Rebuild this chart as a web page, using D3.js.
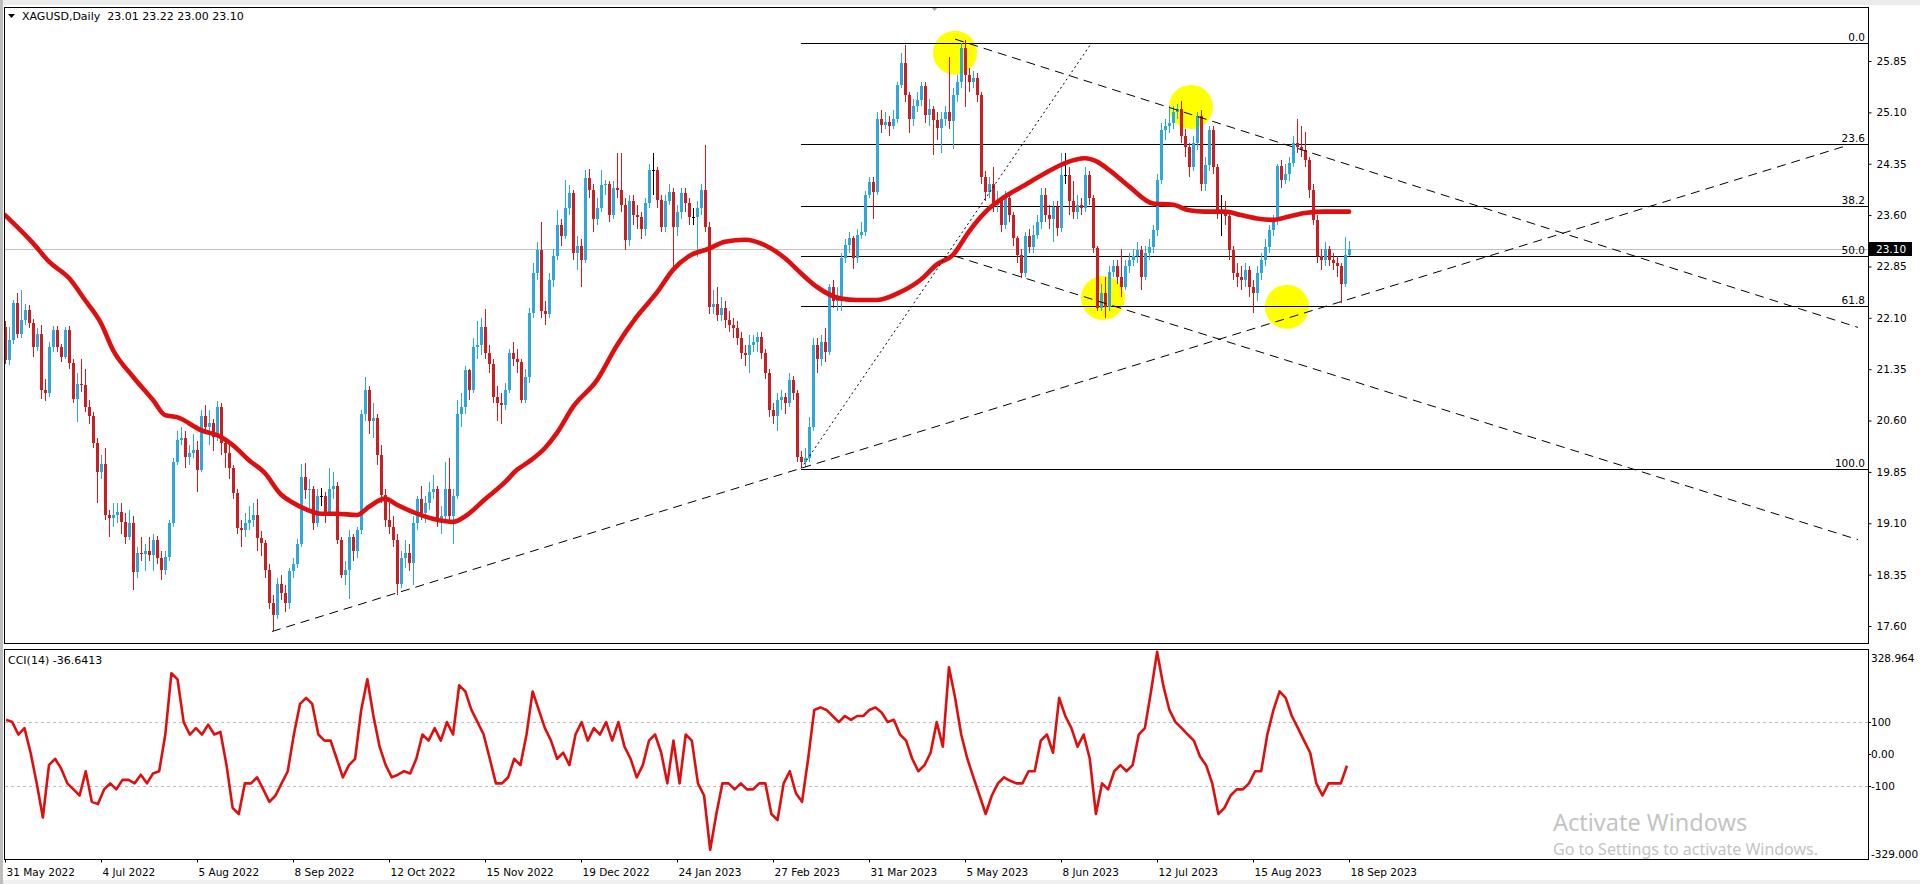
<!DOCTYPE html>
<html><head><meta charset="utf-8">
<script src="https://cdn.jsdelivr.net/npm/d3@7"></script>
<style>
html,body{margin:0;padding:0;background:#fff;overflow:hidden}
svg{display:block}
text{font-family:"DejaVu Sans",sans-serif;font-size:10.5px;fill:#000}
</style></head><body>
<svg id="chart" width="1920" height="884"></svg>
<script>
// ---------------- DATA ----------------
const symbolTitle = "XAGUSD,Daily";
const lastOHLC = ["23.01", "23.22", "23.00", "23.10"];
const cciTitle = "CCI(14) -36.6413";
const lastPrice = 23.10;
const firstOpen = 21.97;
const dateLabelBars = [0,24,48,72,96,120,144,168,192,216,240,264,288,312,336];
const dateLabels = ["31 May 2022","4 Jul 2022","5 Aug 2022","8 Sep 2022","12 Oct 2022","15 Nov 2022","19 Dec 2022","24 Jan 2023","27 Feb 2023","31 Mar 2023","5 May 2023","8 Jun 2023","12 Jul 2023","15 Aug 2023","18 Sep 2023"];
const priceTicks = [25.85,25.10,24.35,23.60,22.85,22.10,21.35,20.60,19.85,19.10,18.35,17.60];
const cciTicks = [328.964,100,0,-100,-329];
const cciTickLabels = ["328.964","100","0.00","-100","-329.000"];
const cciLevels = [100,-100];

const closes = [
21.48,21.78,22.31,21.87,22.07,22.21,22.02,21.68,21.87,21.04,
21.00,21.68,21.92,21.68,21.53,21.92,21.44,20.92,21.14,21.12,
20.80,20.66,20.27,19.85,19.97,19.22,19.17,19.22,19.27,19.12,
18.90,19.10,18.39,18.66,18.65,18.70,18.64,18.86,18.59,18.42,
18.61,19.10,20.00,20.31,20.34,20.07,20.12,20.17,19.88,20.66,
20.51,20.56,20.36,20.80,20.27,20.12,19.90,19.54,19.03,19.00,
19.10,19.15,19.22,18.88,18.81,18.42,17.93,17.76,18.22,18.08,
17.93,18.40,18.50,18.80,19.78,19.58,19.60,19.10,19.50,19.50,
19.25,19.60,19.65,18.85,18.35,18.42,18.90,18.70,19.00,20.70,
21.04,20.60,20.63,20.10,19.52,19.15,19.05,18.85,18.22,18.60,
18.67,18.52,19.10,19.45,19.25,19.40,19.55,19.60,19.15,19.20,
19.60,19.20,19.50,20.70,20.80,21.34,21.04,21.68,21.70,21.97,
21.58,21.43,20.95,20.85,20.82,21.04,21.58,21.50,21.45,20.90,
21.24,22.17,22.75,23.09,22.20,22.15,22.65,23.00,23.45,23.30,
23.70,23.92,23.04,23.15,22.95,24.14,23.97,23.55,23.70,24.04,
24.06,23.60,24.00,23.96,23.75,23.23,23.80,23.60,23.57,23.40,
23.77,24.26,24.26,23.82,23.43,23.80,23.94,23.43,23.65,23.92,
23.77,23.57,23.57,23.70,23.97,23.43,22.26,22.30,22.14,22.25,
22.07,22.00,21.95,21.80,21.58,21.55,21.70,21.75,21.82,21.58,
21.30,20.75,20.66,20.90,20.95,20.85,21.19,21.00,20.07,20.00,
20.05,20.50,21.70,21.50,21.75,21.60,22.55,22.35,22.40,22.97,
23.16,23.26,22.97,23.31,23.36,23.89,24.09,23.94,25.00,24.92,
24.96,24.90,25.01,25.50,25.82,25.35,25.01,25.20,25.28,25.48,
25.06,25.15,24.99,24.87,25.00,25.10,24.97,25.35,25.55,26.04,
25.65,25.55,25.60,25.35,24.16,23.94,24.06,23.75,23.80,23.46,
23.85,23.60,23.26,23.02,22.75,23.30,23.14,23.31,23.50,23.90,
23.60,23.55,23.72,23.41,24.19,24.19,23.80,23.65,23.75,23.70,
24.19,23.85,23.12,22.25,22.46,22.26,22.77,22.85,22.70,22.55,
22.85,22.95,23.00,23.09,22.70,23.04,23.14,23.38,24.11,24.84,
24.90,24.94,25.11,25.15,24.75,24.60,24.30,24.65,25.04,24.06,
24.33,24.84,24.30,23.67,23.67,23.58,23.09,22.75,22.70,22.65,
22.80,22.55,22.46,22.75,22.94,23.14,23.38,23.53,24.31,24.11,
24.20,24.36,24.65,24.60,24.55,24.40,23.97,23.53,23.00,22.94,
23.10,22.95,22.90,22.85,22.60,23.01,23.10];

const highs = [
22.05,21.97,22.36,22.46,22.50,22.30,22.28,22.08,21.95,22.00,
21.20,21.75,21.98,21.98,21.72,21.97,21.98,21.50,21.30,21.50,
21.35,20.90,20.72,20.35,20.10,20.20,19.30,19.40,19.40,19.40,
19.25,19.30,19.20,18.75,18.90,18.80,18.90,18.95,18.92,18.70,
18.70,19.15,20.05,20.45,20.50,20.45,20.25,20.40,20.30,20.75,
20.82,20.75,20.62,20.88,20.86,20.35,20.30,19.95,19.60,19.15,
19.25,19.35,19.40,19.45,18.98,18.85,18.50,18.05,18.30,18.35,
18.20,18.45,18.60,18.87,19.97,19.98,19.75,19.65,19.60,19.62,
19.55,19.90,19.85,19.70,18.90,18.55,19.00,18.95,19.05,20.75,
21.24,21.10,20.85,20.70,20.25,19.60,19.40,19.20,18.95,18.70,
18.85,18.80,19.20,19.50,19.65,19.50,19.70,19.80,19.65,19.35,
20.00,20.05,19.60,20.90,21.00,21.40,21.35,21.80,22.05,22.10,
22.23,21.70,21.50,21.10,21.00,21.15,21.65,21.75,21.65,21.50,
21.35,22.25,22.90,23.20,23.50,22.35,22.75,23.10,23.67,23.55,
24.11,24.04,23.97,23.30,23.25,24.26,24.28,24.05,23.85,24.26,
24.11,24.10,24.10,24.50,24.50,23.85,23.90,23.90,23.75,23.65,
23.85,24.35,24.50,24.30,23.90,23.90,24.05,24.00,23.75,24.00,
24.00,23.85,23.70,23.80,24.05,24.62,23.50,22.50,22.55,22.40,
22.35,22.20,22.10,22.05,21.90,21.70,21.85,21.85,21.90,21.90,
21.65,21.35,20.85,21.00,21.05,21.00,21.30,21.25,21.05,20.15,
20.20,20.65,21.80,21.80,21.85,21.95,22.60,22.65,22.55,23.05,
23.25,23.35,23.30,23.40,23.50,23.95,24.16,24.15,25.10,25.13,
25.10,25.05,25.13,25.55,25.96,26.08,25.40,25.30,25.40,25.55,
25.55,25.30,25.20,25.10,25.10,25.20,25.91,25.45,25.65,26.11,
26.16,25.75,25.70,25.68,25.40,24.25,24.15,24.30,23.95,23.85,
23.95,23.90,23.65,23.30,23.10,23.35,23.40,23.45,23.60,24.00,
24.00,23.75,23.80,23.80,24.50,24.50,24.30,24.10,23.90,23.85,
24.30,24.25,23.90,23.15,22.60,22.70,22.85,22.95,22.95,23.10,
22.95,23.05,23.10,23.20,23.15,23.15,23.25,23.45,24.20,24.95,
25.00,25.20,25.20,25.22,25.26,24.85,24.65,24.75,25.10,25.13,
24.45,24.90,24.90,24.35,23.90,23.80,23.65,23.15,22.90,22.85,
22.90,22.85,22.65,22.85,23.05,23.25,23.45,23.60,24.35,24.40,
24.35,24.45,24.75,25.01,24.90,24.82,24.45,24.05,23.60,23.10,
23.20,23.15,23.05,23.00,22.90,23.28,23.22];

const lows = [
21.42,21.41,21.72,21.80,21.80,22.00,21.95,21.53,21.62,20.92,
20.88,20.95,21.60,21.60,21.45,21.50,21.35,20.85,20.58,21.02,
20.72,20.55,20.20,19.39,19.75,19.15,18.90,19.05,19.10,18.95,
18.80,18.85,18.12,18.30,18.55,18.40,18.55,18.40,18.50,18.27,
18.35,18.55,19.05,19.95,20.25,19.90,19.95,20.05,19.55,19.85,
20.45,20.25,20.15,20.30,20.10,19.90,19.75,19.45,18.95,18.75,
18.90,19.00,19.05,18.70,18.62,18.30,17.85,17.52,17.70,17.98,
17.80,17.85,18.30,18.45,18.75,19.45,19.30,19.00,19.05,19.35,
19.10,19.20,19.45,18.80,18.30,18.20,18.00,18.55,18.60,18.95,
20.60,20.40,20.35,19.95,19.40,19.05,18.95,18.75,18.05,18.15,
18.45,18.40,18.20,19.00,19.15,19.10,19.30,19.45,19.05,18.95,
19.15,19.10,18.80,19.45,20.50,20.70,20.90,21.00,21.50,21.55,
21.50,21.30,20.85,20.60,20.55,20.75,21.00,21.40,21.30,20.85,
20.85,21.15,22.10,22.65,22.10,22.00,22.10,22.55,22.95,23.15,
23.25,23.60,22.95,22.80,22.55,22.90,23.85,23.36,23.45,23.65,
23.90,23.50,23.55,23.85,23.65,23.09,23.15,23.45,23.40,23.25,
23.30,23.70,23.90,23.70,23.35,23.35,23.75,22.82,23.30,23.55,
23.65,23.45,23.45,22.99,23.60,23.35,22.15,22.15,22.05,22.05,
21.95,21.90,21.80,21.70,21.50,21.40,21.30,21.60,21.60,21.50,
21.20,20.65,20.55,20.45,20.75,20.70,20.80,20.90,20.00,19.90,
19.92,20.00,20.45,21.30,21.40,21.45,21.55,22.25,22.20,22.20,
22.90,23.05,22.82,22.90,23.25,23.30,23.85,23.55,23.90,24.80,
24.85,24.75,24.85,24.95,25.45,25.25,24.80,24.90,25.10,25.20,
24.95,24.90,24.48,24.70,24.50,24.90,24.85,24.57,25.25,25.45,
25.18,25.40,25.45,25.25,24.05,23.80,23.85,23.65,23.65,23.35,
23.40,23.50,23.15,22.90,22.68,22.70,23.05,23.05,23.25,23.40,
23.50,23.40,23.20,23.30,23.35,24.05,23.60,23.55,23.55,23.60,
23.65,23.75,23.05,22.20,22.20,22.10,22.20,22.70,22.60,22.40,
22.50,22.75,22.85,22.90,22.50,22.65,22.95,23.05,23.30,24.05,
24.70,24.80,24.85,25.00,24.65,24.45,24.15,24.25,24.55,23.95,
23.95,24.25,24.20,23.55,23.30,23.45,22.95,22.65,22.55,22.50,
22.55,22.40,22.17,22.35,22.65,22.85,23.05,23.30,23.45,24.00,
24.05,24.10,24.30,24.50,24.45,24.30,23.85,23.45,22.90,22.80,
22.85,22.85,22.80,22.70,22.31,22.55,23.00];

// moving average read at sample bars
const maBars = [0,7,11,16,20,24,27,32,37,40,43,49,54,57,61,65,69,72,75,79,83,88,91,95,98,103,108,112,115,120,125,128,131,135,138,142,148,153,158,163,167,171,176,180,185,190,195,199,203,209,213,218,224,229,233,237,241,245,250,255,260,265,270,273,276,281,287,292,296,300,305,309,313,317,321,325,330,336];
const maValues = [23.60,23.19,22.92,22.68,22.36,22.02,21.63,21.24,20.90,20.68,20.65,20.46,20.36,20.24,20.02,19.83,19.52,19.40,19.31,19.24,19.24,19.22,19.34,19.46,19.37,19.24,19.15,19.12,19.20,19.45,19.70,19.88,20.00,20.20,20.42,20.80,21.19,21.70,22.12,22.47,22.80,23.00,23.11,23.21,23.24,23.16,22.97,22.75,22.55,22.38,22.36,22.36,22.48,22.66,22.88,23.02,23.36,23.64,23.87,24.04,24.21,24.36,24.43,24.38,24.26,24.02,23.77,23.75,23.67,23.65,23.65,23.60,23.55,23.53,23.58,23.63,23.65,23.65];

// CCI(14), one sample every 1.53 bars from bar 0.28
const cciStartBar = 0.28, cciStepBars = 1.5306;
const cciValues = [
107,100,61,81,4,-92,-199,-35,-15,-46,
-92,-111,-130,-54,-150,-157,-111,-92,-111,-81,
-81,-92,-65,-92,-61,-54,61,253,234,100,
61,81,61,92,61,69,-35,-169,-188,-92,
-92,-73,-111,-150,-130,-92,-54,61,157,176,
157,61,42,42,-15,-73,-35,-15,138,234,
119,23,-35,-73,-65,-54,-61,-15,61,42,
81,42,100,61,215,196,138,100,61,-15,
-92,-92,-73,-15,-35,61,196,138,81,42,
-15,4,-35,61,100,42,81,61,100,42,
100,23,-15,-73,-35,42,61,4,-92,42,
-92,61,42,-92,-130,-300,-188,-92,-92,-111,
-92,-111,-111,-92,-92,-188,-207,-92,-54,-123,
-150,-15,138,146,138,119,100,119,107,119,
119,138,146,130,100,107,61,42,-15,-54,
-35,4,100,23,272,176,61,-15,-73,-130,
-188,-130,-92,-73,-84,-92,-92,-54,-54,42,
61,4,176,119,81,23,61,-15,-188,-92,
-111,-54,-35,-54,-35,61,81,196,320,215,
138,100,81,61,42,-8,-35,-92,-188,-169,
-130,-111,-111,-92,-54,-54,61,138,196,176,
119,81,42,4,-92,-130,-92,-92,-92,-37];

// Fibonacci retracement
const fibHigh = 26.11, fibLow = 19.89, fibStartBar = 199;
const fibLevels = [0, 23.6, 38.2, 50, 61.8, 100];
const fibLabels = ["0.0","23.6","38.2","50.0","61.8","100.0"];

// trend lines: [bar, price] endpoints
const trendRising = [[66.75, 17.52], [460.75, 24.62]];
const trendUpperDown = [[237.5, 26.17], [463.25, 21.96]];
const trendLowerDown = [[237.5, 23.00], [463.25, 18.86]];
const trendDotted = [[199, 19.90], [271.25, 26.08]];

// highlighted swing points (yellow circles): bar, price
const circleBars = [237.5, 296.5, 274.5, 320.5];
const circlePrices = [25.97, 25.18, 22.39, 22.26];

// ---------------- DRAW ----------------
const svg = d3.select("#chart");
const plotL = 5, plotR = 1868, mainTop = 7, mainBot = 643, cciTop = 649, cciBot = 859;
const BLUE = "#2BA8DF", RED = "#D01C1F", LINE_RED = "#E00F0F";

const x = d3.scaleLinear().domain([0, 336]).range([5, 1349]);
const y = d3.scaleLinear().domain([17.60, 25.85]).range([626, 61]);
const yc = d3.scaleLinear().domain([-329, 328.964]).range([cciBot, cciTop]);

// window chrome
svg.append("rect").attr("x",0).attr("y",0).attr("width",1920).attr("height",884).attr("fill","#fff");
svg.append("rect").attr("x",0).attr("y",0).attr("width",1920).attr("height",5).attr("fill","#ECECEC");
svg.append("rect").attr("x",0).attr("y",880).attr("width",1920).attr("height",4).attr("fill","#F0F0F0");
svg.append("rect").attr("x",0).attr("y",0).attr("width",3).attr("height",884).attr("fill","#BDBDBD");

const defs = svg.append("defs");
defs.append("clipPath").attr("id","clipMain").append("rect")
  .attr("x",plotL).attr("y",mainTop).attr("width",plotR-plotL).attr("height",mainBot-mainTop);
defs.append("clipPath").attr("id","clipCci").append("rect")
  .attr("x",plotL).attr("y",cciTop).attr("width",plotR-plotL).attr("height",cciBot-cciTop);

const gMain = svg.append("g").attr("clip-path","url(#clipMain)");

// yellow circles (background objects)
gMain.selectAll("circle.hl").data(circleBars).join("circle").attr("class","hl")
  .attr("cx",(d)=>x(d)).attr("cy",(d,i)=>y(circlePrices[i])).attr("r",22)
  .attr("fill","#FFFF00");

// bid line
gMain.append("line").attr("x1",plotL).attr("x2",plotR)
  .attr("y1",Math.round(y(lastPrice))+0.5).attr("y2",Math.round(y(lastPrice))+0.5)
  .attr("stroke","#C0C0C0").attr("stroke-width",1);

// fibonacci lines
const fibPrice = (lv)=> fibHigh - (fibHigh - fibLow) * lv / 100;
gMain.selectAll("line.fib").data(fibLevels).join("line").attr("class","fib")
  .attr("x1",x(fibStartBar)).attr("x2",plotR)
  .attr("y1",d=>Math.round(y(fibPrice(d)))+0.5).attr("y2",d=>Math.round(y(fibPrice(d)))+0.5)
  .attr("stroke","#000").attr("stroke-width",1);

// candles
const bars = closes.map((c,i)=>({i, o: i===0 ? firstOpen : closes[i-1], c, h: highs[i], l: lows[i]}));
const gC = gMain.append("g").attr("shape-rendering","crispEdges");
bars.forEach(d=>{
  const cx = Math.round(x(d.i));
  const col = d.c > d.o ? BLUE : (d.c < d.o ? RED : "#000");
  const yh = Math.round(y(d.h)), yl = Math.round(y(d.l));
  gC.append("rect").attr("x",cx).attr("y",yh).attr("width",1).attr("height",Math.max(1,yl-yh)).attr("fill",col);
  const yt = Math.round(y(Math.max(d.o,d.c))), yb = Math.round(y(Math.min(d.o,d.c)));
  if (d.c === d.o) {
    gC.append("rect").attr("x",cx-1).attr("y",yt).attr("width",3).attr("height",1).attr("fill",col);
  } else {
    gC.append("rect").attr("x",cx-1).attr("y",yt).attr("width",3).attr("height",Math.max(1,yb-yt)).attr("fill",col);
  }
});

// moving average
const maLine = d3.line().x((d,i)=>x(maBars[i])).y(d=>y(d)).curve(d3.curveMonotoneX);
gMain.append("path").attr("d",maLine(maValues)).attr("fill","none")
  .attr("stroke",LINE_RED).attr("stroke-width",4.6).attr("stroke-linejoin","round").attr("stroke-linecap","round");

// trend lines
const tl = d3.line().x(d=>x(d[0])).y(d=>y(d[1]));
[trendRising, trendUpperDown, trendLowerDown].forEach(t=>{
  gMain.append("path").attr("d",tl(t)).attr("fill","none").attr("stroke","#000")
    .attr("stroke-width",1).attr("stroke-dasharray","9,6");
});
gMain.append("path").attr("d",tl(trendDotted)).attr("fill","none").attr("stroke","#000")
  .attr("stroke-width",1).attr("stroke-dasharray","2,3");

// fib labels
svg.selectAll("text.fibl").data(fibLevels).join("text").attr("class","fibl")
  .attr("x",plotR-3).attr("y",d=>Math.round(y(fibPrice(d)))-2)
  .attr("text-anchor","end").text((d,i)=>fibLabels[i]);

// top marker
svg.append("path").attr("d","M931,7 L938,7 L934.5,11 Z").attr("fill","#A8A8A8");

// header
svg.append("path").attr("d","M8,14 L15,14 L11.5,18 Z").attr("fill","#000");
svg.append("text").attr("x",22).attr("y",20).attr("xml:space","preserve").style("font-size","11px")
  .text(symbolTitle + "  " + lastOHLC.join(" "));

// panel frames
const frame = svg.append("g").attr("shape-rendering","crispEdges").attr("fill","none").attr("stroke","#000");
frame.append("rect").attr("x",plotL-0.5).attr("y",mainTop+0.5).attr("width",plotR-plotL+1).attr("height",mainBot-mainTop);
frame.append("rect").attr("x",plotL-0.5).attr("y",cciTop+0.5).attr("width",plotR-plotL+1).attr("height",cciBot-cciTop);

// price axis
const pAxis = svg.append("g").attr("transform",`translate(${plotR+0.5},0)`)
  .call(d3.axisRight(y).tickValues(priceTicks).tickSize(3).tickPadding(5).tickFormat(d3.format(".2f")));
pAxis.select(".domain").remove();
pAxis.selectAll("text").style("font-size","10.5px").style("font-family","DejaVu Sans");
pAxis.selectAll("line").attr("stroke","#000");

// current price box
const yp = Math.round(y(lastPrice));
svg.append("rect").attr("x",plotR+1).attr("y",yp-7).attr("width",43).attr("height",14).attr("fill","#000");
svg.append("text").attr("x",plotR+8).attr("y",yp+4).attr("fill","#fff").style("fill","#fff").text(d3.format(".2f")(lastPrice));

// CCI panel
const gCci = svg.append("g").attr("clip-path","url(#clipCci)");
gCci.selectAll("line.lvl").data(cciLevels).join("line").attr("class","lvl")
  .attr("x1",plotL).attr("x2",plotR)
  .attr("y1",d=>Math.round(yc(d))+0.5).attr("y2",d=>Math.round(yc(d))+0.5)
  .attr("stroke","#BDBDBD").attr("stroke-dasharray","3,3");
const cciLine = d3.line().x((d,i)=>x(cciStartBar + i*cciStepBars)).y(d=>yc(d));
gCci.append("path").attr("d",cciLine(cciValues)).attr("fill","none")
  .attr("stroke",LINE_RED).attr("stroke-width",2.6).attr("stroke-linejoin","round");
svg.append("text").attr("x",8).attr("y",664).style("font-size","11px").text(cciTitle);

// CCI axis labels
const cciLabelShift = [9, 0, 0, 0, -5];
svg.selectAll("text.cci").data(cciTicks).join("text").attr("class","cci")
  .attr("x",plotR+3).attr("y",(d,i)=>yc(d)+4+cciLabelShift[i]).text((d,i)=>cciTickLabels[i]);
svg.selectAll("line.ccit").data(cciTicks.slice(1,4)).join("line").attr("class","ccit")
  .attr("x1",plotR).attr("x2",plotR+3).attr("y1",d=>Math.round(yc(d))+0.5).attr("y2",d=>Math.round(yc(d))+0.5)
  .attr("stroke","#000");

// time axis
const tAxis = svg.append("g").attr("transform",`translate(0,${cciBot+0.5})`)
  .call(d3.axisBottom(x).tickValues(dateLabelBars).tickSize(3).tickFormat((d,i)=>dateLabels[i]));
tAxis.select(".domain").remove();
tAxis.selectAll("text").attr("text-anchor","start").attr("dx","1").attr("y",9)
  .style("font-size","10.5px").style("font-family","DejaVu Sans");
tAxis.selectAll("line").attr("stroke","#000");

// OS watermark
svg.append("text").attr("x",1553).attr("y",831).style("font-family","Noto Sans").style("font-size","23.5px")
  .style("fill","#C4C4C4").text("Activate Windows");
svg.append("text").attr("x",1553).attr("y",855).style("font-family","Noto Sans").style("font-size","16px")
  .style("fill","#C4C4C4").text("Go to Settings to activate Windows.");
</script>
</body></html>
